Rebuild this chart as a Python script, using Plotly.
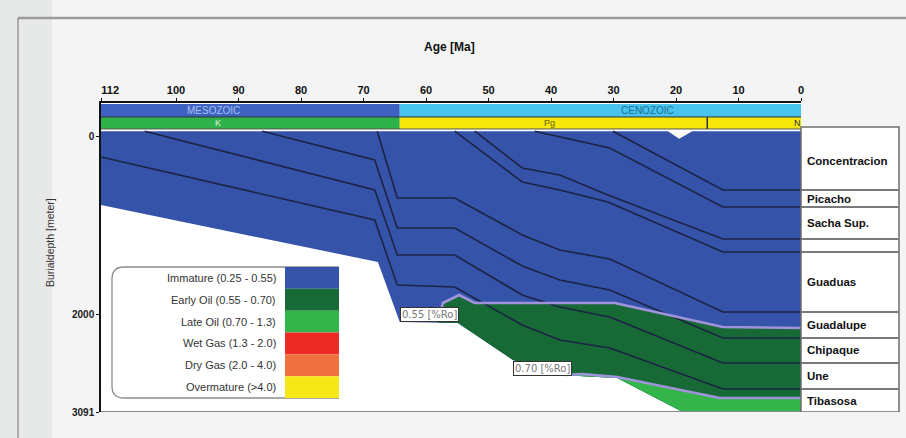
import numpy as np
import plotly.graph_objects as go

# ---------------- data ----------------
age_ticks = [112, 100, 90, 80, 70, 60, 50, 40, 30, 20, 10, 0]
age_tick_text = ["\u2007\u2007\u2007112", "100", "90", "80", "70", "60", "50", "40",
                 "30", "20", "10", "0"]
depth_ticks = [0, 2000, 3091]

surface_age = [112, 21.3, 19.5, 17.4, 0]
surface_depth = [-65, -65, 20, -65, -65]

conc_base_age = [30.1, 12.5, 0]
conc_base_depth = [-65, 596, 596]
picacho_base_age = [42.6, 38.6, 30.6, 12.5, 0]
picacho_base_depth = [-65, 0, 124, 787, 787]
sacha_base_age = [52.2, 44.6, 38.6, 30.9, 12.5, 0]
sacha_base_depth = [-65, 348, 427, 652, 1147, 1147]
unnamed_base_age = [55.4, 44.6, 38.6, 30.9, 12.5, 0]
unnamed_base_depth = [-65, 506, 596, 731, 1293, 1293]
guaduas_base_age = [67.8, 64.6, 55.4, 44.6, 38.6, 30.6, 12.5, 0]
guaduas_base_depth = [-65, 686, 686, 1101, 1270, 1371, 1967, 1967]
guadalupe_base_age = [86.2, 68.2, 64.6, 55.4, 44.6, 38.6, 30.6, 12.5, 0]
guadalupe_base_depth = [-65, 259, 1023, 1023, 1450, 1607, 1720, 2259, 2259]
chipaque_base_age = [105.0, 68.2, 64.6, 55.4, 44.6, 38.6, 30.6, 12.5, 0]
chipaque_base_depth = [-65, 596, 1326, 1326, 1776, 1911, 2023, 2540, 2540]
une_base_age = [112, 68.2, 64.6, 55.4, 44.6, 38.6, 30.6, 12.5, 0]
une_base_depth = [225, 933, 1664, 1686, 2113, 2282, 2372, 2833, 2833]
tibasosa_base_age = [112, 67.7, 64.2, 54.9, 46.1, 38.6, 29.4, 18.9, 0]
tibasosa_base_depth = [764, 1405, 2079, 2091, 2507, 2675, 2709, 3091, 3091]

iso055_age = [58.1, 57.3, 54.7, 52.2, 29.8, 12.5, 0]
iso055_depth = [2079, 1866, 1776, 1866, 1866, 2136, 2147]
iso070_age = [37.8, 35.0, 29.4, 13.0, 0]
iso070_depth = [2675, 2664, 2698, 2934, 2934]

iso_label_text = ["0.55 [%Ro]", "0.70 [%Ro]"]
iso_label_age = [64.2, 46.1]
iso_label_depth = [2079, 2686]

formation_names = ["Concentracion", "Picacho", "Sacha Sup.", "", "Guaduas",
                   "Guadalupe", "Chipaque", "Une", "Tibasosa"]

era_names = ["MESOZOIC", "CENOZOIC"]
era_start = [112, 64.2]
era_end = [64.2, 0]
era_colors = ["#3e62c2", "#47c3ee"]
era_text_colors = ["#a8c0f4", "#1f6f90"]
era_label_age = [94.0, 24.5]

period_names = ["K", "Pg", "N"]
period_start = [112, 64.2, 15.0]
period_end = [64.2, 15.0, 0]
period_colors = ["#2fb24c", "#f5e70a", "#f5e70a"]
period_text_colors = ["#dff5d8", "#6a5a10", "#333333"]
period_label_age = [93.3, 40.3, 0.6]

legend_labels = ["Immature (0.25 - 0.55)", "Early Oil (0.55 - 0.70)",
                 "Late Oil (0.70 - 1.3)", "Wet Gas (1.3 - 2.0)",
                 "Dry Gas (2.0 - 4.0)", "Overmature (>4.0)"]
legend_colors = ["#3653aa", "#176a35", "#33b54a", "#ee2a24", "#f07040", "#f5e816"]

# ---------------- styling ----------------
FN = "Liberation Sans Narrow, Arial Narrow, Liberation Sans, sans-serif"
BLUE, DKGREEN, LTGREEN = legend_colors[0], legend_colors[1], legend_colors[2]
LINE = "#1b2444"
ISO = "#a093dc"

W, H = 906, 438
L, R, T, B = 101, 105, 103, 26
PW, PH = W - L - R, H - T - B


def px(x):
    return (x - L) / PW


def py(y):
    return (H - B - y) / PH


def interp_desc(a, ages, depths):
    return float(np.interp(a, ages[::-1], depths[::-1]))


def polygon(top_age, top_depth, bot_age, bot_depth):
    a0 = top_age[0]
    ba = [a for a in bot_age if a < a0]
    bd = [d for a, d in zip(bot_age, bot_depth) if a < a0]
    ba = [a0] + ba
    bd = [interp_desc(a0, bot_age, bot_depth)] + bd
    xs = list(top_age) + ba[::-1]
    ys = list(top_depth) + bd[::-1]
    return xs, ys


fig = go.Figure()

# total sediment column (immature)
xs = list(surface_age) + tibasosa_base_age[::-1]
ys = list(surface_depth) + tibasosa_base_depth[::-1]
fig.add_trace(go.Scatter(x=xs, y=ys, fill="toself", fillcolor=BLUE, mode="lines",
                         line=dict(width=0, color=BLUE), hoverinfo="skip"))
# early oil
xs, ys = polygon(iso055_age, iso055_depth, tibasosa_base_age, tibasosa_base_depth)
fig.add_trace(go.Scatter(x=xs, y=ys, fill="toself", fillcolor=DKGREEN, mode="lines",
                         line=dict(width=0, color=DKGREEN), hoverinfo="skip"))
# late oil
xs, ys = polygon(iso070_age, iso070_depth, tibasosa_base_age, tibasosa_base_depth)
fig.add_trace(go.Scatter(x=xs, y=ys, fill="toself", fillcolor=LTGREEN, mode="lines",
                         line=dict(width=0, color=LTGREEN), hoverinfo="skip"))

horizons = [
    (conc_base_age, conc_base_depth),
    (picacho_base_age, picacho_base_depth),
    (sacha_base_age, sacha_base_depth),
    (unnamed_base_age, unnamed_base_depth),
    (guaduas_base_age, guaduas_base_depth),
    (guadalupe_base_age, guadalupe_base_depth),
    (chipaque_base_age, chipaque_base_depth),
    (une_base_age, une_base_depth),
]
for a, d in horizons:
    fig.add_trace(go.Scatter(x=a, y=d, mode="lines", line=dict(color=LINE, width=1.6),
                             hoverinfo="skip"))

for a, d in [(iso055_age, iso055_depth), (iso070_age, iso070_depth)]:
    fig.add_trace(go.Scatter(x=a, y=d, mode="lines", line=dict(color=ISO, width=2.6),
                             hoverinfo="skip"))

shapes = []
annotations = []

# page decoration
shapes.append(dict(type="rect", xref="paper", yref="paper", x0=px(0), x1=px(52),
                   y0=py(438), y1=py(0), fillcolor="#e7e8e8", line=dict(width=0),
                   layer="below"))
shapes.append(dict(type="line", xref="paper", yref="paper", x0=px(18), x1=px(906),
                   y0=py(18), y1=py(18), line=dict(color="#9a9a9a", width=2.5)))
shapes.append(dict(type="line", xref="paper", yref="paper", x0=px(18), x1=px(18),
                   y0=py(18), y1=py(438), line=dict(color="#9a9a9a", width=1.5)))

# era / period bars
ERA_TOP, ERA_BOT, PER_BOT = -371, -225, -90
for n, s, e, c, tc, la in zip(era_names, era_start, era_end, era_colors,
                              era_text_colors, era_label_age):
    shapes.append(dict(type="rect", xref="x", yref="y", x0=s, x1=e, y0=ERA_TOP,
                       y1=ERA_BOT, fillcolor=c, line=dict(width=0)))
    annotations.append(dict(x=la, y=(ERA_TOP + ERA_BOT) / 2, xref="x", yref="y",
                            text=n, showarrow=False, xanchor="center", yanchor="middle",
                            font=dict(family=FN, size=10, color=tc)))
for n, s, e, c, tc, la in zip(period_names, period_start, period_end, period_colors,
                              period_text_colors, period_label_age):
    shapes.append(dict(type="rect", xref="x", yref="y", x0=s, x1=e, y0=ERA_BOT,
                       y1=PER_BOT, fillcolor=c, line=dict(width=0)))
    annotations.append(dict(x=la, y=(ERA_BOT + PER_BOT) / 2, xref="x", yref="y",
                            text=n, showarrow=False, xanchor="center", yanchor="middle",
                            font=dict(family=FN, size=9, color=tc)))
shapes.append(dict(type="line", xref="x", yref="y", x0=112, x1=0, y0=ERA_BOT,
                   y1=ERA_BOT, line=dict(color="#333", width=1)))
shapes.append(dict(type="line", xref="x", yref="y", x0=112, x1=0, y0=PER_BOT,
                   y1=PER_BOT, line=dict(color="#555", width=1)))
shapes.append(dict(type="line", xref="x", yref="y", x0=period_start[2], x1=period_start[2],
                   y0=ERA_BOT, y1=PER_BOT, line=dict(color="#333", width=1.5)))

# bottom frame line
shapes.append(dict(type="line", xref="paper", yref="y", x0=0, x1=1, y0=3091, y1=3091,
                   line=dict(color="#888", width=2)))

# formation panel on the right
present_bases = [h[1][-1] for h in horizons]
panel_top = -112
shapes.append(dict(type="rect", xref="paper", yref="y", x0=1.0, x1=px(899),
                   y0=panel_top, y1=3091, fillcolor="white",
                   line=dict(color="#6d6d6d", width=1.5)))
for d in present_bases:
    shapes.append(dict(type="line", xref="paper", yref="y", x0=1.0, x1=px(899),
                       y0=d, y1=d, line=dict(color="#7a7a7a", width=2)))
tops = [surface_depth[-1]] + present_bases
bots = present_bases + [tibasosa_base_depth[-1]]
for n, t, b in zip(formation_names, tops, bots):
    if n:
        annotations.append(dict(x=px(805), y=(t + b) / 2, xref="paper", yref="y",
                                text=n, showarrow=False, xanchor="left",
                                yanchor="middle",
                                font=dict(family=FN, size=11.5, color="#111",
                                          weight="bold")))

# isoline labels
for t, a, d in zip(iso_label_text, iso_label_age, iso_label_depth):
    annotations.append(dict(x=a, y=d, xref="x", yref="y", text=t, showarrow=False,
                            xanchor="left", yanchor="bottom", bgcolor="white",
                            bordercolor="#333", borderwidth=1, borderpad=1,
                            font=dict(family="DejaVu Sans", size=10, color="#777")))

# legend (maturity classes)
lx0, lx1, sw0 = 112, 339, 285
ly0, ly1 = 267, 398
rh = (ly1 - ly0) / len(legend_labels)
r = 12
path = (f"M {px(lx1)} {py(ly0)} L {px(lx0 + r)} {py(ly0)} "
        f"Q {px(lx0)} {py(ly0)} {px(lx0)} {py(ly0 + r)} "
        f"L {px(lx0)} {py(ly1 - r)} Q {px(lx0)} {py(ly1)} {px(lx0 + r)} {py(ly1)} "
        f"L {px(lx1)} {py(ly1)}")
shapes.append(dict(type="path", xref="paper", yref="paper", path=path,
                   fillcolor="white", line=dict(color="#8c8c8c", width=1.3)))
for i, (lab, col) in enumerate(zip(legend_labels, legend_colors)):
    y0 = ly0 + i * rh
    shapes.append(dict(type="rect", xref="paper", yref="paper", x0=px(sw0), x1=px(lx1),
                       y0=py(y0 + rh), y1=py(y0), fillcolor=col, line=dict(width=0)))
    annotations.append(dict(x=px(278), y=py(y0 + rh / 2), xref="paper", yref="paper",
                            text=lab, showarrow=False, xanchor="right", yanchor="middle",
                            font=dict(family=FN, size=11, color="#333")))

# axis titles
annotations.append(dict(x=px(449), y=py(47), xref="paper", yref="paper", text="Age [Ma]",
                        showarrow=False, xanchor="center", yanchor="middle",
                        font=dict(family=FN, size=12, color="#111", weight="bold")))
annotations.append(dict(x=px(50), y=py(243), xref="paper", yref="paper",
                        text="Burialdepth [meter]", showarrow=False, textangle=-90,
                        xanchor="center", yanchor="middle",
                        font=dict(family=FN, size=10.5, color="#333")))

fig.update_layout(
    width=W, height=H, margin=dict(l=L, r=R, t=T, b=B),
    paper_bgcolor="#f3f4f3", plot_bgcolor="white", showlegend=False,
    shapes=shapes, annotations=annotations,
    xaxis=dict(range=[112, 0], side="top", tickmode="array", tickvals=age_ticks,
               ticktext=age_tick_text,
               ticks="outside", ticklen=3, tickcolor="#111", showline=True,
               linecolor="#111", linewidth=2, showgrid=False, zeroline=False,
               tickfont=dict(family=FN, size=11, color="#111", weight="bold")),
    yaxis=dict(range=[3091, -382], tickmode="array", tickvals=depth_ticks,
               ticks="outside", ticklen=3, tickcolor="#111", showline=True,
               linecolor="#111", linewidth=1.5, showgrid=False, zeroline=False,
               tickfont=dict(family=FN, size=10, color="#222", weight="bold")),
)

fig.write_html("out.html", config={"displayModeBar": False},
               post_script="document.body.style.margin='0';document.body.style.padding='0';"
                           "document.body.style.overflow='hidden';")
